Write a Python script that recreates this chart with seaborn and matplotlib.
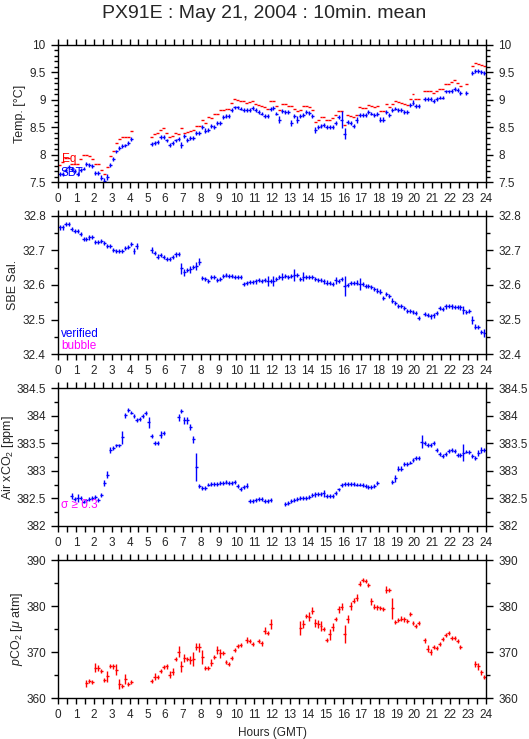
import numpy as np
import matplotlib
matplotlib.use('Agg')
import matplotlib.pyplot as plt
import seaborn as sns
from matplotlib.ticker import MultipleLocator, FuncFormatter

nan = np.nan

# 10-minute mean bins (hour of day, GMT): six per hour, one row per hour below
hours = np.arange(144) / 6 + 1 / 12

temp_sbt = [
    7.65, 7.65, 7.72, 7.78, 7.74, 7.70,
    7.65, 7.72, 7.75, 7.83, 7.82, 7.80,
    7.67, 7.67, 7.58, 7.52, 7.60, 7.82,
    7.92, 8.06, 8.13, 8.16, 8.17, 8.21,
    8.28, nan, nan, nan, nan, nan,
    nan, 8.19, 8.22, 8.24, 8.33, 8.33,
    8.26, 8.18, 8.21, 8.26, 8.28, 8.18,
    8.34, 8.27, 8.30, 8.30, 8.39, 8.39,
    8.50, 8.44, 8.45, 8.52, 8.51, 8.58,
    8.58, 8.69, 8.70, 8.70, 8.81, 8.86,
    8.86, 8.84, 8.82, 8.82, 8.82, 8.85,
    8.81, 8.78, 8.75, 8.70, 8.70, 8.83,
    8.85, 8.75, 8.64, 8.79, 8.78, 8.78,
    8.58, 8.70, 8.64, 8.70, 8.72, 8.78,
    8.76, 8.70, 8.45, 8.51, 8.53, 8.54,
    8.50, 8.50, 8.51, 8.58, 8.68, 8.64,
    8.38, 8.60, 8.58, 8.52, 8.63, 8.72,
    8.72, 8.72, 8.78, 8.75, 8.72, 8.74,
    8.64, 8.64, 8.78, 8.73, 8.81, 8.84,
    8.81, 8.81, 8.78, 8.78, 8.90, 8.95,
    8.89, 8.89, nan, 9.01, 9.01, 9.01,
    8.98, 9.02, 9.04, 9.04, 9.15, 9.15,
    9.16, 9.19, 9.18, 9.12, nan, 9.13,
    nan, 9.48, 9.52, 9.52, 9.50, 9.48,
]
temp_sbt_err = [
    .04, .04, .04, .035, .035, .035,
    .035, .035, .035, .035, .035, .035,
    .035, .035, .045, .05, .06, .035,
    .04, .035, .035, .035, .035, .035,
    .035, .035, .035, .035, .035, .035,
    .035, .035, .035, .035, .035, .035,
    .035, .035, .035, .035, .035, .05,
    .035, .035, .035, .035, .035, .035,
    .035, .04, .035, .035, .035, .035,
    .035, .035, .035, .035, .035, .035,
    .035, .035, .035, .035, .035, .035,
    .035, .035, .035, .035, .04, .035,
    .035, .035, .06, .035, .035, .035,
    .05, .035, .07, .035, .035, .035,
    .035, .035, .06, .035, .035, .04,
    .035, .035, .035, .035, .035, .15,
    .10, .04, .035, .035, .05, .035,
    .035, .035, .035, .035, .035, .035,
    .05, .05, .035, .035, .035, .035,
    .035, .035, .035, .035, .035, .05,
    .035, .035, .035, .035, .035, .035,
    .035, .035, .035, .035, .035, .035,
    .035, .035, .035, .035, .035, .035,
    .035, .035, .035, .035, .035, .035,
]
temp_eq = [
    7.81, 7.87, 7.95, 7.95, 7.84, 7.83,
    7.84, 7.92, 8.00, 8.00, 7.98, 7.93,
    7.83, 7.83, 7.72, 7.66, 7.77, 7.98,
    8.06, 8.21, 8.29, 8.32, 8.32, 8.33,
    8.44, nan, nan, nan, nan, nan,
    nan, 8.32, 8.38, 8.40, 8.45, 8.48,
    8.40, 8.32, 8.34, 8.40, 8.37, 8.48,
    8.39, 8.42, 8.44, 8.45, 8.52, 8.52,
    8.63, 8.58, 8.68, 8.66, 8.74, 8.74,
    8.82, 8.82, 8.84, 8.84, 8.95, 9.01,
    9.00, 8.98, 8.97, 8.95, 8.96, 8.98,
    8.93, 8.90, 8.88, 8.86, 8.84, 8.98,
    8.98, 8.88, 8.81, 8.93, 8.92, 8.89,
    8.88, 8.84, 8.79, 8.82, 8.88, 8.88,
    8.87, 8.81, 8.59, 8.64, 8.69, 8.69,
    8.64, 8.63, 8.67, 8.72, 8.80, 8.79,
    8.54, 8.72, 8.70, 8.69, 8.72, 8.86,
    8.85, 8.85, 8.90, 8.88, 8.86, 8.88,
    8.79, 8.79, 8.92, 8.86, 8.92, 8.98,
    8.96, 8.95, 8.92, 8.90, 9.02, 9.10,
    9.02, 9.02, nan, 9.15, 9.15, 9.15,
    9.12, 9.16, 9.19, 9.19, 9.28, 9.28,
    9.32, 9.36, 9.31, 9.25, nan, 9.28,
    nan, 9.61, 9.66, 9.65, 9.63, 9.61,
]

salinity = [
    32.766, 32.766, 32.776, 32.777, 32.761, 32.756,
    32.755, 32.746, 32.732, 32.732, 32.737, 32.739,
    32.725, 32.725, 32.727, 32.720, 32.712, 32.712,
    32.701, 32.699, 32.699, 32.699, 32.706, 32.709,
    32.718, 32.699, 32.712, nan, nan, nan,
    nan, 32.701, 32.691, 32.682, 32.687, 32.680,
    32.674, 32.674, 32.680, 32.688, 32.689, 32.648,
    32.636, 32.643, 32.645, 32.653, 32.655, 32.667,
    32.619, 32.616, 32.612, 32.624, 32.622, 32.614,
    32.616, 32.626, 32.628, 32.626, 32.626, 32.624,
    32.624, 32.622, 32.603, 32.605, 32.608, 32.608,
    32.610, 32.614, 32.612, 32.614, 32.612, 32.611,
    32.612, 32.616, 32.622, 32.624, 32.626, 32.624,
    32.626, 32.629, 32.629, 32.617, 32.624, 32.624,
    32.622, 32.622, 32.616, 32.614, 32.614, 32.610,
    32.607, 32.605, 32.603, 32.614, 32.612, 32.616,
    32.597, 32.600, 32.605, 32.605, 32.607, 32.603,
    32.603, 32.597, 32.597, 32.593, 32.588, 32.584,
    32.581, 32.563, 32.573, 32.569, 32.555, 32.547,
    32.539, 32.539, 32.533, 32.525, 32.525, 32.523,
    32.518, 32.504, nan, 32.515, 32.513, 32.509,
    32.512, 32.520, 32.533, 32.531, 32.538, 32.539,
    32.538, 32.536, 32.536, 32.535, 32.528, 32.523,
    32.525, 32.499, 32.480, 32.478, 32.465, 32.461,
]
salinity_err = [
    .006, .006, .006, .006, .006, .006,
    .006, .006, .006, .006, .006, .006,
    .006, .006, .006, .006, .006, .006,
    .006, .006, .006, .006, .006, .006,
    .006, .009, .008, .006, .006, .006,
    .006, .008, .006, .006, .006, .006,
    .006, .006, .006, .006, .006, .015,
    .010, .006, .010, .006, .012, .010,
    .006, .006, .006, .006, .006, .006,
    .006, .006, .006, .006, .006, .006,
    .006, .006, .006, .006, .006, .006,
    .006, .006, .006, .006, .015, .006,
    .015, .006, .006, .010, .006, .006,
    .006, .017, .006, .006, .012, .006,
    .006, .006, .006, .006, .006, .006,
    .006, .006, .006, .010, .006, .006,
    .030, .006, .006, .006, .006, .017,
    .006, .006, .006, .006, .006, .006,
    .006, .006, .006, .006, .006, .006,
    .006, .006, .006, .006, .006, .006,
    .006, .006, .006, .006, .006, .006,
    .006, .006, .006, .006, .006, .006,
    .006, .006, .006, .006, .012, .006,
    .006, .012, .006, .006, .006, .012,
]

air_xco2 = [
    nan, nan, nan, nan, 382.54, 382.48,
    382.51, 382.50, 382.44, 382.46, 382.48, 382.50,
    382.53, 382.47, 382.56, 382.78, 382.93, 383.38,
    383.42, 383.46, 383.46, 383.61, 384.01, 384.11,
    384.06, 384.00, 383.92, 383.94, 384.00, 384.05,
    383.88, 383.63, 383.51, 383.50, 383.66, 383.69,
    nan, nan, nan, nan, 383.97, 384.09,
    383.92, 383.92, 383.80, 383.57, 383.07, 382.72,
    382.68, 382.68, 382.75, 382.76, 382.76, 382.76,
    382.77, 382.78, 382.80, 382.78, 382.78, 382.79,
    382.72, 382.67, 382.71, 382.73, 382.45, 382.45,
    382.47, 382.49, 382.48, 382.45, 382.45, 382.47,
    nan, nan, nan, nan, 382.39, 382.42,
    382.45, 382.47, 382.49, 382.51, 382.51, 382.51,
    382.53, 382.56, 382.57, 382.57, 382.57, 382.59,
    382.54, 382.54, 382.54, 382.60, 382.66, 382.74,
    382.76, 382.76, 382.76, 382.76, 382.75, 382.75,
    382.74, 382.72, 382.71, 382.71, 382.72, 382.78,
    nan, nan, nan, nan, 382.79, 382.86,
    383.04, 383.04, 383.13, 383.13, 383.15, 383.20,
    383.23, 383.23, 383.53, 383.51, 383.47, 383.47,
    383.51, 383.38, 383.30, 383.27, 383.30, 383.36,
    383.38, 383.36, 383.29, 383.29, 383.33, 383.35,
    383.34, 383.27, 383.24, 383.32, 383.38, 383.38,
]
air_xco2_err = [
    .035, .035, .035, .035, .06, .035,
    .07, .04, .035, .035, .035, .035,
    .035, .035, .035, .06, .06, .06,
    .035, .035, .035, .12, .05, .035,
    .035, .035, .035, .035, .035, .035,
    .10, .035, .035, .035, .06, .035,
    .035, .035, .035, .035, .06, .035,
    .06, .06, .06, .06, .25, .035,
    .035, .035, .035, .035, .035, .035,
    .035, .035, .04, .035, .035, .035,
    .035, .035, .035, .05, .035, .035,
    .035, .035, .035, .035, .035, .035,
    .035, .035, .035, .035, .035, .035,
    .035, .035, .035, .035, .035, .035,
    .035, .035, .05, .035, .035, .06,
    .035, .035, .035, .035, .035, .035,
    .035, .035, .035, .035, .035, .035,
    .035, .035, .035, .035, .035, .04,
    .035, .035, .035, .035, .035, .07,
    .05, .05, .035, .035, .035, .035,
    .035, .035, .12, .035, .035, .035,
    .04, .035, .035, .035, .035, .035,
    .035, .035, .035, .035, .15, .035,
    .035, .035, .035, .05, .05, .035,
]

pco2 = [
    nan, nan, nan, nan, nan, nan,
    nan, nan, nan, 363.25, 363.8, 363.6,
    366.6, 366.6, 365.9, 364.0, 364.8, 367.0,
    366.9, 366.2, 363.1, 362.7, 364.2, 363.1,
    363.5, nan, nan, nan, nan, nan,
    nan, 363.8, 364.7, 364.7, 365.9, 366.7,
    366.9, 365.1, 365.8, 368.5, 370.1, 366.9,
    368.7, 368.5, 368.3, 368.5, 371.2, 371.1,
    368.9, 366.6, 366.5, 367.7, 368.9, 370.5,
    369.8, 369.8, 367.8, 367.4, 368.8, 370.5,
    371.3, 371.5, nan, 372.6, 372.4, 371.8,
    nan, 372.5, 371.9, 374.7, 374.2, 376.1,
    nan, nan, nan, nan, nan, nan,
    nan, nan, nan, 375.2, 376.1, 377.9,
    377.7, 379.0, 376.3, 376.1, 375.7, 375.0,
    372.6, 373.9, 375.5, 377.2, 379.3, 379.9,
    373.9, 377.2, 380.0, 381.2, 381.8, 384.9,
    385.7, 385.5, 384.6, 381.0, 379.9, 379.7,
    379.5, 379.4, 383.6, 383.5, 379.5, 376.6,
    377.0, 377.3, 377.1, 376.8, 378.3, 376.3,
    375.7, 376.3, nan, 372.6, 370.8, 370.0,
    371.2, 371.0, 371.8, 372.8, 373.7, 374.2,
    373.0, 373.0, 372.4, 371.1, nan, nan,
    nan, nan, 367.4, 366.9, 365.6, 364.7,
]
pco2_err = [
    .45, .45, .45, .45, .45, .45,
    .45, .45, .45, .7, .45, .45,
    1.0, .7, .45, .45, 1.2, .5,
    .45, 1.2, 1.0, .45, 1.0, .45,
    .45, .45, .45, .45, .45, .45,
    .45, .45, .8, .45, .45, .45,
    .45, .8, .8, .45, 1.2, 1.2,
    .8, .45, .8, 1.5, .8, 1.0,
    1.5, .45, .45, .8, .45, .8,
    1.0, .45, .45, .45, .45, .45,
    .45, .45, .45, .6, .45, .45,
    .45, .45, .45, .8, .45, 1.0,
    .45, .45, .45, .45, .45, .45,
    .45, .45, .45, 1.5, .8, .45,
    1.0, .8, .8, .8, 1.0, .45,
    .45, 1.2, .8, .45, .8, .7,
    2.0, .8, .8, .45, .8, .45,
    .45, .45, .45, .8, .45, .45,
    .45, .45, .8, .45, 2.2, .45,
    .45, .45, .45, .45, .5, .45,
    .45, .45, .45, .5, .8, .6,
    .45, .45, .45, .45, .45, .45,
    .45, .45, .45, .45, .45, .45,
    .45, .45, .7, .8, .45, .45,
]

sns.set_theme(style='ticks')
plt.rcParams['font.family'] = ['Liberation Sans', 'DejaVu Sans']
plt.rcParams['mathtext.fontset'] = 'custom'
plt.rcParams['mathtext.rm'] = 'Liberation Sans'
plt.rcParams['mathtext.it'] = 'Liberation Sans:italic'

BLUE = '#0000ff'
RED = '#ff0000'
MAGENTA = '#ff00ff'
HALF_BIN = 1 / 12

fig = plt.figure(figsize=(5.29, 7.39), dpi=100)

left, width = 0.1102, 0.808
panels = [
    # bottom, height, ylim, major, minor, ylabel, ylabel x (axes fraction)
    (0.7533, 0.1862, (7.5, 10), 0.5, 0.1, 'Temp. [°C]', -0.076),
    (0.5206, 0.1876, (32.4, 32.8), 0.1, 0.05, 'SBE Sal.', -0.093),
    (0.2886, 0.1859, (382, 384.5), 0.5, 0.25, r'Air xCO$_2$ [ppm]', -0.100),
    (0.0551, 0.1871, (360, 390), 10, 5, r'$\it{p}$CO$_2$ [$\mu$ atm]', -0.079),
]

fmt = FuncFormatter(lambda v, p: f'{v:g}')
axes = []
for bottom, height, ylim, major, minor, ylabel, lab_x in panels:
    ax = fig.add_axes([left, bottom, width, height])
    ax.set_xlim(0, 24)
    ax.set_ylim(*ylim)
    ax.xaxis.set_major_locator(MultipleLocator(1))
    ax.xaxis.set_minor_locator(MultipleLocator(0.5))
    ax.yaxis.set_major_locator(MultipleLocator(major))
    ax.yaxis.set_minor_locator(MultipleLocator(minor))
    ax.yaxis.set_major_formatter(fmt)
    ax.tick_params(axis='x', which='both', direction='out', length=4, width=1,
                   top=True, bottom=True, labeltop=False, labelbottom=True,
                   labelsize=8.5, pad=4, color='black')
    ax.tick_params(axis='y', which='major', direction='out', length=5, width=1,
                   left=True, right=True, labelleft=True, labelright=True,
                   labelsize=8.5, pad=4, color='black')
    ax.tick_params(axis='y', which='minor', direction='out', length=3, width=1,
                   left=True, right=True, color='black')
    for s in ax.spines.values():
        s.set_linewidth(1.0)
        s.set_color('black')
    ax.set_ylabel(ylabel, fontsize=9)
    ax.yaxis.set_label_coords(lab_x, 0.5)
    axes.append(ax)

ax_t, ax_s, ax_a, ax_p = axes

kw = dict(fmt='none', elinewidth=1.0, capsize=0)
ax_t.errorbar(hours, temp_eq, xerr=HALF_BIN, ecolor=RED, **kw)
ax_t.errorbar(hours, temp_sbt, xerr=HALF_BIN, yerr=temp_sbt_err, ecolor=BLUE, **kw)
ax_s.errorbar(hours, salinity, xerr=HALF_BIN, yerr=salinity_err, ecolor=BLUE, **kw)
ax_a.errorbar(hours, air_xco2, xerr=HALF_BIN, yerr=air_xco2_err, ecolor=BLUE, **kw)
ax_p.errorbar(hours, pco2, xerr=HALF_BIN, yerr=pco2_err, ecolor=RED, **kw)

# in-panel legend texts
ax_t.text(0.008, 0.15, 'Eq', color=RED, fontsize=8.5, transform=ax_t.transAxes)
ax_t.text(0.006, 0.048, 'SBT', color=BLUE, fontsize=8.5, transform=ax_t.transAxes)
ax_s.text(0.006, 0.125, 'verified', color=BLUE, fontsize=8.5, transform=ax_s.transAxes)
ax_s.text(0.006, 0.038, 'bubble', color=MAGENTA, fontsize=8.5, transform=ax_s.transAxes)
ax_a.text(0.006, 0.131, 'σ ≥ 0.3', color=MAGENTA, fontsize=8.5, transform=ax_a.transAxes)

ax_p.set_xlabel('Hours (GMT)', fontsize=8.5, labelpad=4)

fig.text(0.5, 1 - 14 / 739, 'PX91E : May 21, 2004 : 10min. mean',
         ha='center', va='center', fontsize=14)

fig.savefig('out.png', dpi=100)
plt.close(fig)
